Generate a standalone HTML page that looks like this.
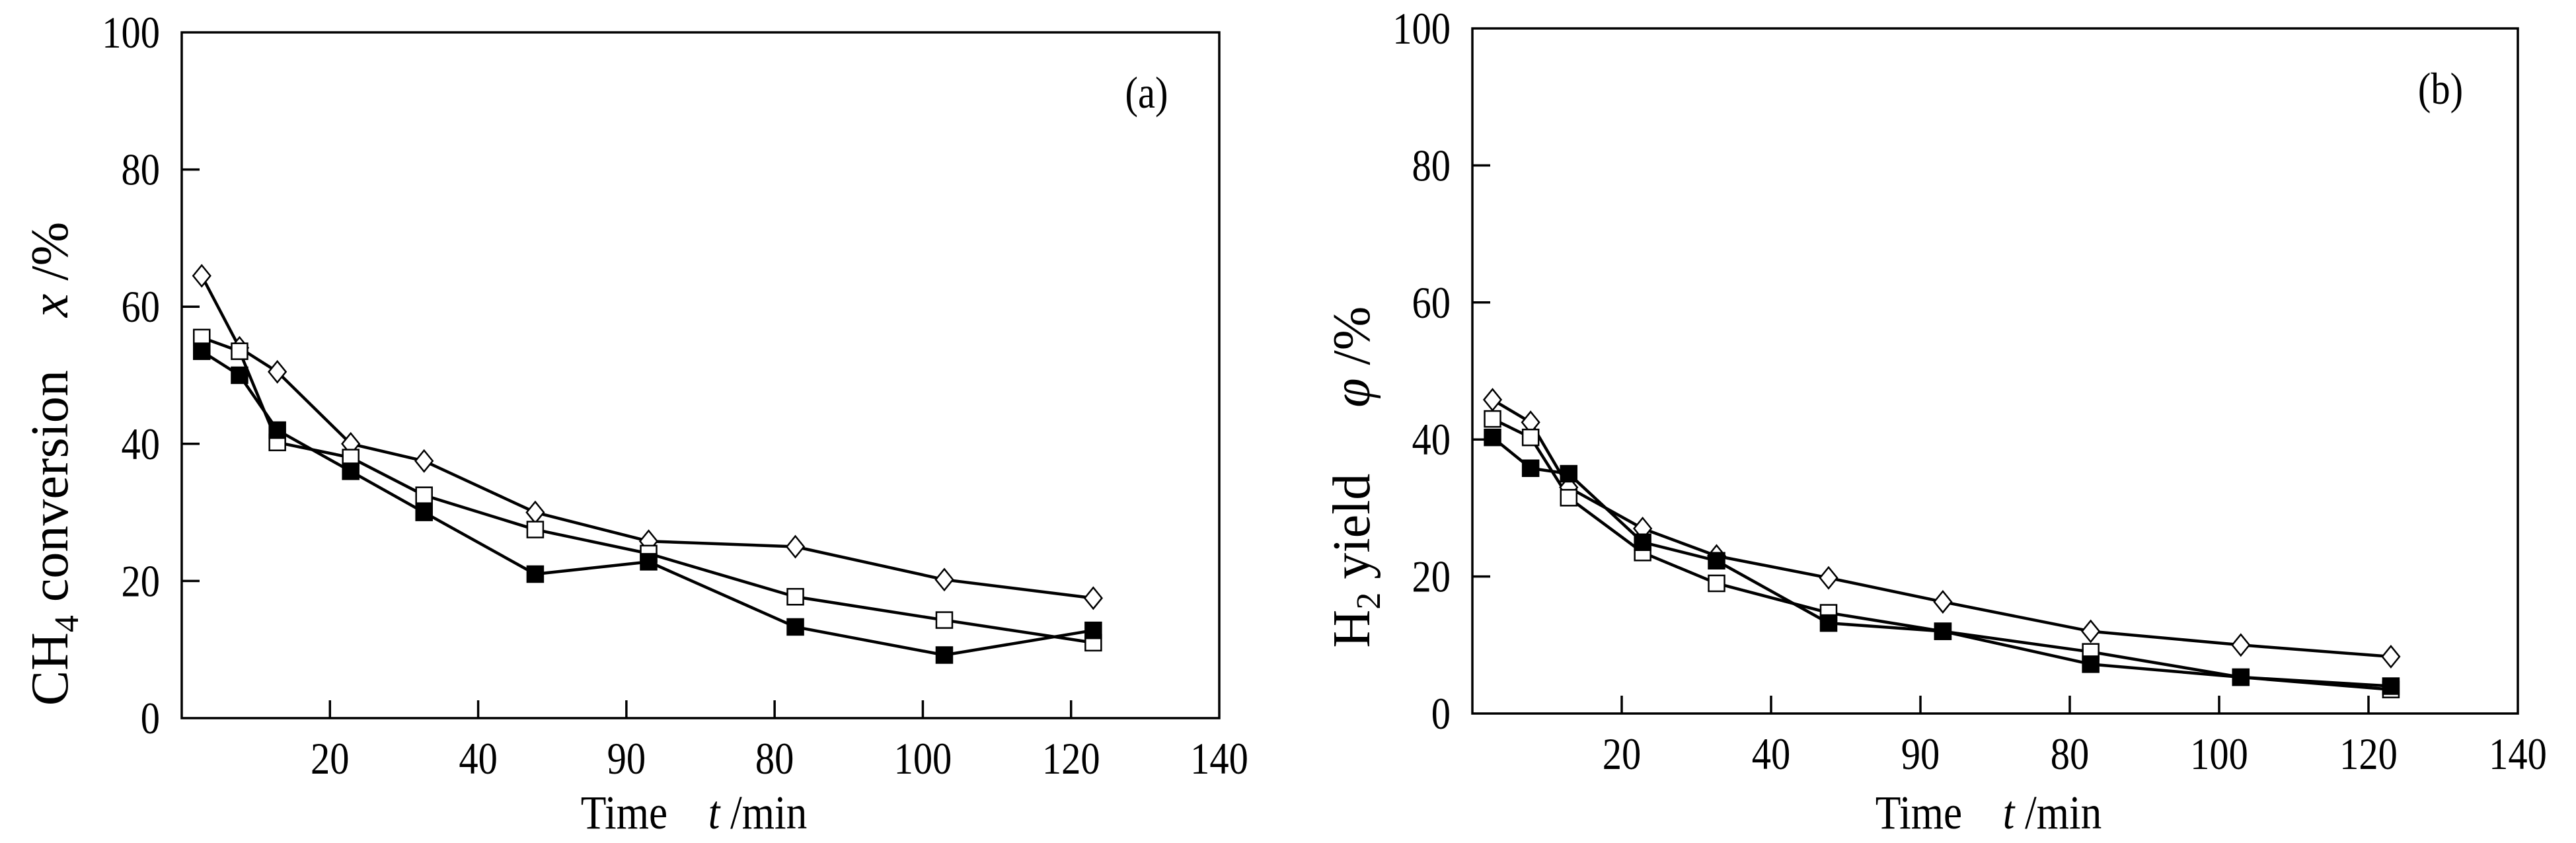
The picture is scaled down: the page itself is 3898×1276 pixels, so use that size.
<!DOCTYPE html>
<html><head><meta charset="utf-8">
<style>
html,body{margin:0;padding:0;background:#fff;}
svg{display:block;}
text{font-family:"Liberation Serif",serif;fill:#000;}
</style></head>
<body>
<svg id="chart" width="3898" height="1276" viewBox="0 0 3898 1276" xmlns="http://www.w3.org/2000/svg"></svg>
<script>
const times = [2.7, 7.8, 12.9, 22.8, 32.7, 47.7, 63.0, 82.8, 102.9, 123.0];
const xTickValues = [20, 40, 60, 80, 100, 120, 140];
const xTickLabels = ["20", "40", "90", "80", "100", "120", "140"];
const yTickValues = [0, 20, 40, 60, 80, 100];
const yTickLabels = ["0", "20", "40", "60", "80", "100"];
const convDiamond = [64.5, 54, 50.5, 40, 37.5, 30, 25.8, 25, 20.2, 17.5];
const convOpen = [55.5, 53.5, 40.2, 38, 32.5, 27.5, 24, 17.7, 14.3, 11];
const convFilled = [53.5, 50, 42, 36, 30, 21, 22.8, 13.3, 9.2, 12.8];
const yieldDiamond = [45.8, 42.5, 33, 27, 23, 19.8, 16.3, 12, 10, 8.3];
const yieldOpen = [43, 40.3, 31.5, 23.5, 19, 14.7, 12, 9, 5.3, 3.5];
const yieldFilled = [40.3, 35.8, 35, 25, 22.3, 13.2, 12, 7.2, 5.3, 4];

const NS = "http://www.w3.org/2000/svg";
const svg = document.getElementById("chart");
function mk(tag, attrs, parent) {
  const e = document.createElementNS(NS, tag);
  for (const k in attrs) e.setAttribute(k, attrs[k]);
  (parent || svg).appendChild(e);
  return e;
}
// condensed text: scale horizontally around its anchor x
function ctext(parent, x, y, size, anchor, str) {
  const t = mk("text", {x: 0, y: 0, "font-size": size, "text-anchor": anchor, transform: `translate(${x},${y}) scale(0.86,1)`}, parent);
  t.textContent = str;
  return t;
}

function panel(cfg) {
  const g = mk("g", {});
  
  
  const X = v => cfg.left + (v / 140) * (cfg.right - cfg.left);
  const Y = v => cfg.bottom - (v / 100) * (cfg.bottom - cfg.top);

  const frame = mk("rect", {x: cfg.left, y: cfg.top, width: cfg.right - cfg.left, height: cfg.bottom - cfg.top, fill: "none", stroke: "#000", "stroke-width": 3.5}, g);
  
  

  xTickValues.forEach((v, i) => {
    if (v < 140) {
      const t = mk("line", {x1: X(v), x2: X(v), y1: cfg.bottom, y2: cfg.bottom - 27, stroke: "#000", "stroke-width": 3.5}, g);
      
      
    }
    const lb = ctext(g, X(v), cfg.bottom + 84, 68, "middle", xTickLabels[i]);
    
    
  });
  yTickValues.forEach((v, i) => {
    if (v > 0 && v < 100) {
      const t = mk("line", {x1: cfg.left, x2: cfg.left + 27, y1: Y(v), y2: Y(v), stroke: "#000", "stroke-width": 3.5}, g);
      
      
    }
    const lb = ctext(g, cfg.left - 33, Y(v) + 23, 68, "end", yTickLabels[i]);
    
    
  });

  const series = [
    {vals: cfg.diamond, kind: "diamond", name: "series-diamond"},
    {vals: cfg.open, kind: "open", name: "series-open-square"},
    {vals: cfg.filled, kind: "filled", name: "series-filled-square"}
  ];
  series.forEach(s => {
    const pts = s.vals.map((v, i) => X(times[i]) + "," + Y(v)).join(" ");
    const pl = mk("polyline", {points: pts, fill: "none", stroke: "#000", "stroke-width": 4.5, "stroke-linejoin": "round"}, g);
    
    
  });
  series.forEach(s => {
    s.vals.forEach((v, i) => {
      const cx = X(times[i]), cy = Y(v);
      let m;
      if (s.kind === "diamond") {
        m = mk("polygon", {points: `${cx},${cy-16} ${cx+13},${cy} ${cx},${cy+16} ${cx-13},${cy}`, fill: "#fff", stroke: "#000", "stroke-width": 2.5}, g);
      } else {
        m = mk("rect", {x: cx - 12, y: cy - 12, width: 24, height: 24, fill: s.kind === "filled" ? "#000" : "#fff", stroke: "#000", "stroke-width": 2.5}, g);
      }
      
      
    });
  });

  const tag = ctext(g, cfg.tagX, cfg.top + 114, 68, "middle", cfg.tag);
  
  

  const xt = mk("text", {x: 0, y: 0, "font-size": 72, "text-anchor": "middle", transform: `translate(${(cfg.left + cfg.right) / 2 - 10},1254) scale(0.88,1)`}, g);
  xt.innerHTML = 'Time<tspan dx="70" font-style="italic">t</tspan> /min';
  
  

  const yt = mk("text", {x: 0, y: 0, "font-size": 80, "text-anchor": "middle", transform: `translate(${cfg.ytX},${cfg.ytY}) rotate(-90)`}, g);
  yt.innerHTML = cfg.ytitle;
  
  
}

panel({name: "panel-a-ch4-conversion", left: 275, right: 1845, top: 49, bottom: 1087, tag: "(a)", tagX: 1735,
  diamond: convDiamond, open: convOpen, filled: convFilled, ytX: 102, ytY: 702,
  ytitle: 'CH<tspan font-size="52" dy="16">4</tspan><tspan dy="-16"> conversion</tspan><tspan dx="80" font-style="italic">x</tspan> /%'});
panel({name: "panel-b-h2-yield", left: 2228, right: 3810, top: 43, bottom: 1080, tag: "(b)", tagX: 3693,
  diamond: yieldDiamond, open: yieldOpen, filled: yieldFilled, ytX: 2072, ytY: 722,
  ytitle: 'H<tspan font-size="52" dy="16">2</tspan><tspan dy="-16"> yield</tspan><tspan dx="100" font-style="italic">φ</tspan> /%'});
</script>
</body></html>
